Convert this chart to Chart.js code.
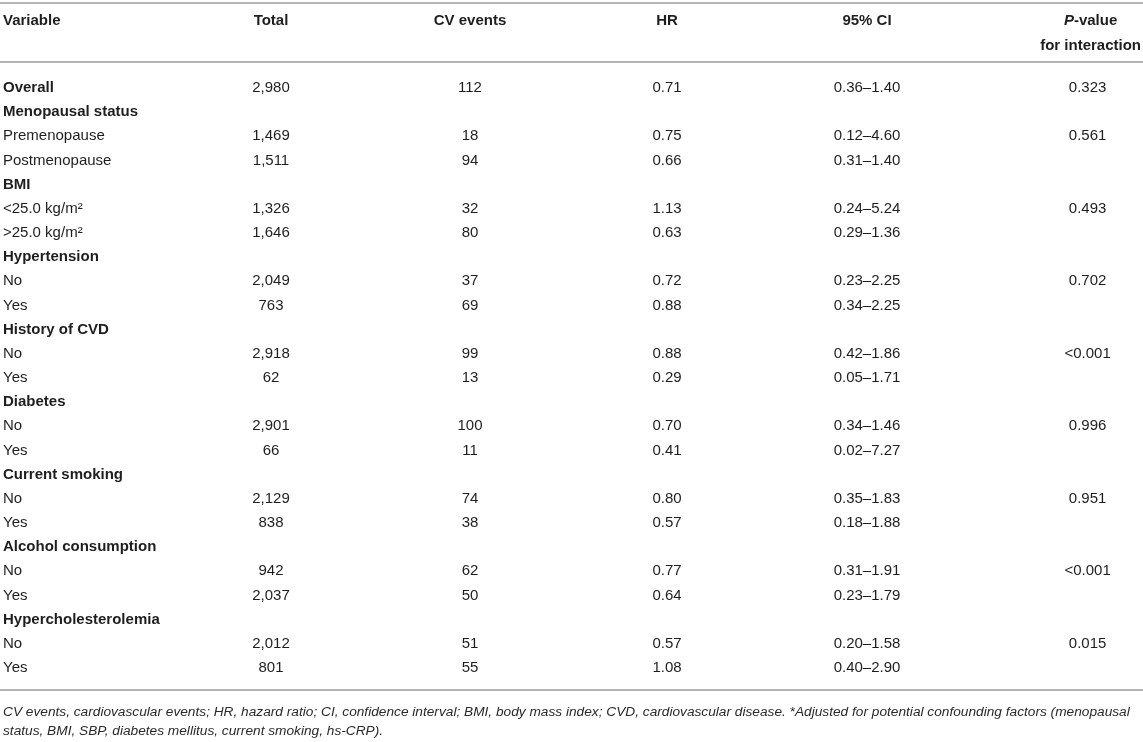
<!DOCTYPE html>
<html>
<head>
<meta charset="utf-8">
<script src="https://cdn.jsdelivr.net/npm/chart.js@4.4.0/dist/chart.umd.min.js"></script>
<style>
  html, body { margin: 0; padding: 0; background: #fff; }
  #wrap { width: 1143px; height: 742px; position: relative; }
</style>
</head>
<body>
<div id="wrap"><canvas id="tableChart"></canvas></div>
<script>
// table data
const rowLabels = ['Overall', 'Menopausal status', 'Premenopause', 'Postmenopause', 'BMI',
  '<25.0 kg/m²', '>25.0 kg/m²', 'Hypertension', 'No', 'Yes', 'History of CVD', 'No', 'Yes',
  'Diabetes', 'No', 'Yes', 'Current smoking', 'No', 'Yes', 'Alcohol consumption', 'No', 'Yes',
  'Hypercholesterolemia', 'No', 'Yes'];
const boldRows = [0, 1, 4, 7, 10, 13, 16, 19, 22];
const totals = ['2,980', '', '1,469', '1,511', '', '1,326', '1,646', '', '2,049', '763', '', '2,918', '62',
  '', '2,901', '66', '', '2,129', '838', '', '942', '2,037', '', '2,012', '801'];
const cvEvents = ['112', '', '18', '94', '', '32', '80', '', '37', '69', '', '99', '13',
  '', '100', '11', '', '74', '38', '', '62', '50', '', '51', '55'];
const hazardRatio = ['0.71', '', '0.75', '0.66', '', '1.13', '0.63', '', '0.72', '0.88', '', '0.88', '0.29',
  '', '0.70', '0.41', '', '0.80', '0.57', '', '0.77', '0.64', '', '0.57', '1.08'];
const ci95 = ['0.36–1.40', '', '0.12–4.60', '0.31–1.40', '', '0.24–5.24', '0.29–1.36', '', '0.23–2.25', '0.34–2.25', '',
  '0.42–1.86', '0.05–1.71', '', '0.34–1.46', '0.02–7.27', '', '0.35–1.83', '0.18–1.88', '',
  '0.31–1.91', '0.23–1.79', '', '0.20–1.58', '0.40–2.90'];
const pInteraction = ['0.323', '', '0.561', '', '', '0.493', '', '', '0.702', '', '', '<0.001', '',
  '', '0.996', '', '', '0.951', '', '', '<0.001', '', '', '0.015', ''];
const headers = ['Variable', 'Total', 'CV events', 'HR', '95% CI', 'P-value'];
const footnote = [
  'CV events, cardiovascular events; HR, hazard ratio; CI, confidence interval; BMI, body mass index; CVD, cardiovascular disease. *Adjusted for potential confounding factors (menopausal',
  'status, BMI, SBP, diabetes mellitus, current smoking, hs-CRP).'
];

// layout (x in pixels of the page, y in row units)
const colX = [3, 271, 470, 667, 867, 1100];
const rightEdge = 1141;
const headY1 = -2.77, headY2 = -1.74;
const lineTop = -3.5, lineHead = -1.07, lineBottom = 24.9;
const noteY = [25.82, 26.62];
const fontSize = 15;
const family = '"Liberation Sans", Arial, Helvetica, sans-serif';
const ink = '#1e1e1e';
const ruleColor = '#b4b4b4';

const tablePlugin = {
  id: 'tableCells',
  afterDraw(chart) {
    const ctx = chart.ctx;
    const xs = chart.scales.x, ys = chart.scales.y;
    const font = (w, s, it) => (it ? 'italic ' : '') + w + ' ' + s + 'px ' + family;
    ctx.save();

    // rules
    ctx.strokeStyle = ruleColor;
    ctx.lineWidth = 2;
    [lineTop, lineHead, lineBottom].forEach(v => {
      const py = Math.round(ys.getPixelForValue(v));
      ctx.beginPath();
      ctx.moveTo(xs.getPixelForValue(0), py);
      ctx.lineTo(xs.getPixelForValue(1143), py);
      ctx.stroke();
    });

    ctx.fillStyle = ink;
    ctx.textBaseline = 'middle';

    // header
    ctx.font = font('bold', fontSize);
    const wInter = ctx.measureText('for interaction').width;
    const pCenter = Math.min(xs.getPixelForValue(colX[5]), xs.getPixelForValue(rightEdge) - wInter / 2);
    headers.forEach((h, i) => {
      const px = xs.getPixelForValue(colX[i]);
      const py = ys.getPixelForValue(headY1);
      if (i === 0) {
        ctx.textAlign = 'left';
        ctx.fillText(h, px, py);
      } else if (i === headers.length - 1) {
        // italic P
        ctx.font = font('bold', fontSize, true);
        const wP = ctx.measureText('P').width;
        ctx.font = font('bold', fontSize);
        const rest = h.slice(1);
        const wR = ctx.measureText(rest).width;
        const start = pCenter - (wP + wR) / 2;
        ctx.textAlign = 'left';
        ctx.font = font('bold', fontSize, true);
        ctx.fillText('P', start, py);
        ctx.font = font('bold', fontSize);
        ctx.fillText(rest, start + wP, py);
        ctx.textAlign = 'center';
        ctx.fillText('for interaction', pCenter, ys.getPixelForValue(headY2));
      } else {
        ctx.textAlign = 'center';
        ctx.fillText(h, px, py);
      }
    });

    // body
    const cols = [totals, cvEvents, hazardRatio, ci95, pInteraction];
    rowLabels.forEach((lab, r) => {
      const py = ys.getPixelForValue(r);
      ctx.textAlign = 'left';
      ctx.font = font(boldRows.includes(r) ? 'bold' : 'normal', fontSize);
      ctx.fillText(lab, xs.getPixelForValue(colX[0]), py);
      ctx.font = font('normal', fontSize);
      ctx.textAlign = 'center';
      cols.forEach((arr, c) => {
        const px = c === 4 ? pCenter - 3 : xs.getPixelForValue(colX[c + 1]);
        if (arr[r]) ctx.fillText(arr[r], px, py);
      });
    });

    // footnote
    ctx.textAlign = 'left';
    ctx.font = font('normal', 13.7, true);
    ctx.fillStyle = '#2a2a2a';
    footnote.forEach((t, i) => ctx.fillText(t, xs.getPixelForValue(3), ys.getPixelForValue(noteY[i])));
    ctx.restore();
  }
};

const rowStep = 580 / 24;
new Chart(document.getElementById('tableChart'), {
  type: 'scatter',
  data: { datasets: [{ data: [], pointRadius: 0 }] },
  options: {
    responsive: true,
    maintainAspectRatio: false,
    animation: false,
    layout: { padding: 0 },
    plugins: { legend: { display: false }, tooltip: { enabled: false } },
    scales: {
      x: { type: 'linear', min: 0, max: 1143, display: false },
      y: { type: 'linear', reverse: true, min: -88 / rowStep, max: (742 - 88) / rowStep, display: false }
    }
  },
  plugins: [tablePlugin]
});
</script>
</body>
</html>
